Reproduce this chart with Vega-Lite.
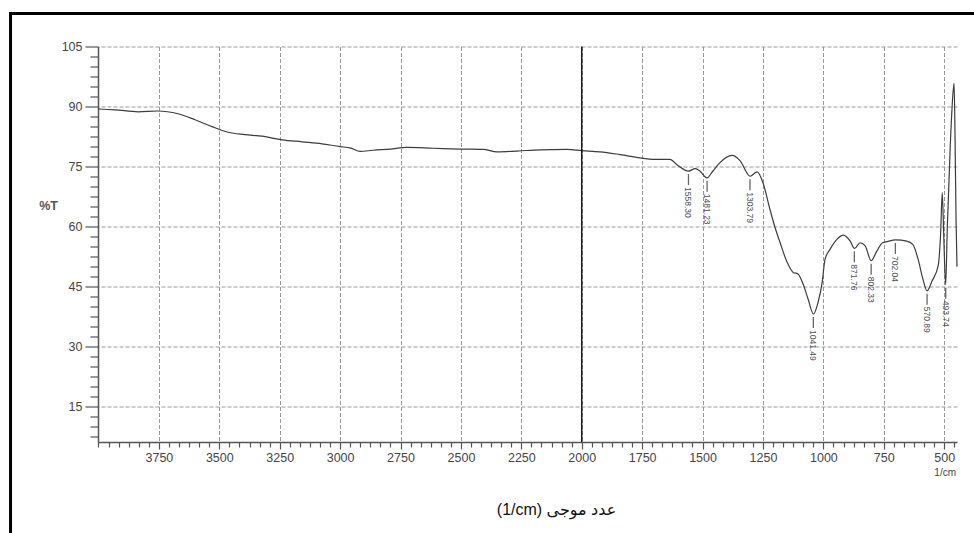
{
  "$schema": "https://vega.github.io/schema/vega-lite/v6.json",
  "width": 859,
  "height": 395.5,
  "autosize": {"type": "none"},
  "padding": {"left": 98, "top": 46.5, "right": 17, "bottom": 91},
  "background": "white",
  "config": {"view": {"stroke": null}},
  "datasets": {
    "spectrum": [
      {"wn": 4002, "t": 89.4}, {"wn": 3932, "t": 89.2}, {"wn": 3836, "t": 88.7}, {"wn": 3754, "t": 88.9},
      {"wn": 3671, "t": 88.2}, {"wn": 3600, "t": 86.7}, {"wn": 3530, "t": 85.0}, {"wn": 3464, "t": 83.6},
      {"wn": 3394, "t": 83.0}, {"wn": 3323, "t": 82.6}, {"wn": 3240, "t": 81.7}, {"wn": 3158, "t": 81.2},
      {"wn": 3075, "t": 80.7}, {"wn": 3000, "t": 80.0}, {"wn": 2959, "t": 79.7}, {"wn": 2917, "t": 78.8},
      {"wn": 2864, "t": 79.1}, {"wn": 2793, "t": 79.4}, {"wn": 2723, "t": 79.8}, {"wn": 2615, "t": 79.6},
      {"wn": 2504, "t": 79.4}, {"wn": 2408, "t": 79.3}, {"wn": 2350, "t": 78.7}, {"wn": 2268, "t": 78.9},
      {"wn": 2173, "t": 79.2}, {"wn": 2061, "t": 79.3}, {"wn": 2000, "t": 79.0}, {"wn": 1924, "t": 78.7},
      {"wn": 1841, "t": 78.0}, {"wn": 1759, "t": 77.2}, {"wn": 1705, "t": 76.8}, {"wn": 1635, "t": 76.8},
      {"wn": 1606, "t": 75.5}, {"wn": 1558, "t": 73.9}, {"wn": 1531, "t": 74.5}, {"wn": 1515, "t": 74.1},
      {"wn": 1481, "t": 72.2}, {"wn": 1461, "t": 73.6}, {"wn": 1428, "t": 76.0}, {"wn": 1378, "t": 77.8},
      {"wn": 1345, "t": 76.5}, {"wn": 1303, "t": 72.6}, {"wn": 1274, "t": 73.7}, {"wn": 1250, "t": 71.0},
      {"wn": 1221, "t": 64.3}, {"wn": 1200, "t": 59.8}, {"wn": 1179, "t": 56.0}, {"wn": 1150, "t": 51.1},
      {"wn": 1125, "t": 48.6}, {"wn": 1105, "t": 48.2}, {"wn": 1084, "t": 45.7}, {"wn": 1063, "t": 41.9},
      {"wn": 1041, "t": 38.2}, {"wn": 1022, "t": 41.1}, {"wn": 1005, "t": 46.1}, {"wn": 993, "t": 51.9},
      {"wn": 972, "t": 54.4}, {"wn": 943, "t": 56.9}, {"wn": 918, "t": 57.9}, {"wn": 889, "t": 56.4},
      {"wn": 871, "t": 54.6}, {"wn": 848, "t": 56.0}, {"wn": 827, "t": 55.2}, {"wn": 802, "t": 51.5},
      {"wn": 780, "t": 53.8}, {"wn": 755, "t": 56.0}, {"wn": 736, "t": 56.3}, {"wn": 700, "t": 56.7},
      {"wn": 655, "t": 56.4}, {"wn": 630, "t": 55.6}, {"wn": 608, "t": 51.9}, {"wn": 588, "t": 46.9},
      {"wn": 571, "t": 44.0}, {"wn": 550, "t": 46.5}, {"wn": 525, "t": 50.2}, {"wn": 515, "t": 58.0},
      {"wn": 508, "t": 68.5}, {"wn": 502, "t": 58.0}, {"wn": 494, "t": 45.5}, {"wn": 487, "t": 60.0},
      {"wn": 475, "t": 80.0}, {"wn": 464, "t": 93.0}, {"wn": 459, "t": 95.8}, {"wn": 455, "t": 82.0},
      {"wn": 451, "t": 62.0}, {"wn": 447, "t": 50.0}
    ],
    "peaks": [
      {"wn": 1558.3, "t": 73.9, "label": "1558.30"},
      {"wn": 1481.23, "t": 72.2, "label": "1481.23"},
      {"wn": 1303.79, "t": 72.6, "label": "1303.79"},
      {"wn": 1041.49, "t": 38.2, "label": "1041.49"},
      {"wn": 871.76, "t": 54.6, "label": "871.76"},
      {"wn": 802.33, "t": 51.5, "label": "802.33"},
      {"wn": 702.04, "t": 56.7, "label": "702.04"},
      {"wn": 570.89, "t": 44.0, "label": "570.89"},
      {"wn": 493.74, "t": 45.5, "label": "493.74"}
    ],
    "marker": [{"wn": 2000}]
  },
  "layer": [
    {
      "data": {"name": "spectrum"},
      "mark": {"type": "line", "color": "#3c3c3c", "strokeWidth": 1.2, "interpolate": "monotone"},
      "encoding": {
        "x": {
          "field": "wn", "type": "quantitative",
          "scale": {"domain": [447, 4002], "reverse": true, "nice": false, "zero": false},
          "axis": {
            "values": [458.33,500,541.67,583.33,625,666.67,708.33,750,791.67,833.33,875,916.67,958.33,1000,1041.67,1083.33,1125,1166.67,1208.33,1250,1291.67,1333.33,1375,1416.67,1458.33,1500,1541.67,1583.33,1625,1666.67,1708.33,1750,1791.67,1833.33,1875,1916.67,1958.33,2000,2041.67,2083.33,2125,2166.67,2208.33,2250,2291.67,2333.33,2375,2416.67,2458.33,2500,2541.67,2583.33,2625,2666.67,2708.33,2750,2791.67,2833.33,2875,2916.67,2958.33,3000,3041.67,3083.33,3125,3166.67,3208.33,3250,3291.67,3333.33,3375,3416.67,3458.33,3500,3541.67,3583.33,3625,3666.67,3708.33,3750,3791.67,3833.33,3875,3916.67,3958.33,4000],
            "tickCount": 500,
            "labelExpr": "datum.value % 250 === 0 && datum.value < 3900 ? datum.value : ''",
            "labelFont": "Liberation Sans", "labelFontSize": 12.5, "labelColor": "#444",
            "labelPadding": 2, "labelFlush": false, "labelOverlap": false,
            "domainColor": "#555", "domainWidth": 1.5,
            "tickColor": "#555", "tickWidth": 1.2,
            "tickSize": {"condition": {"test": "datum.value % 250 === 0 && datum.value < 3900", "value": 7}, "value": 5},
            "grid": true, "gridColor": "#999", "gridDash": [4, 2], "gridWidth": 1,
            "gridOpacity": {"condition": {"test": "datum.value % 250 === 0 && datum.value < 3900", "value": 1}, "value": 0},
            "title": "(1/cm) عدد موجی",
            "titleFont": "Liberation Sans, DejaVu Sans", "titleFontSize": 16, "titleFontWeight": "normal", "titleColor": "#111",
            "titleX": 458, "titleY": 67, "titleAlign": "center", "titleBaseline": "middle"
          }
        },
        "y": {
          "field": "t", "type": "quantitative",
          "scale": {"domain": [6.25, 105], "nice": false, "zero": false},
          "axis": {
            "values": [7.5,10,12.5,15,17.5,20,22.5,25,27.5,30,32.5,35,37.5,40,42.5,45,47.5,50,52.5,55,57.5,60,62.5,65,67.5,70,72.5,75,77.5,80,82.5,85,87.5,90,92.5,95,97.5,100,102.5,105],
            "tickCount": 500,
            "labelExpr": "datum.value % 15 === 0 ? datum.value : ''",
            "labelFont": "Liberation Sans", "labelFontSize": 12.5, "labelColor": "#444",
            "labelPadding": 3, "labelFlush": false, "labelOverlap": false,
            "domainColor": "#555", "domainWidth": 1.5,
            "tickColor": "#555", "tickWidth": 1.2,
            "tickSize": {"condition": {"test": "datum.value % 15 === 0", "value": 13}, "value": 8},
            "grid": true, "gridColor": "#999", "gridDash": [4, 2], "gridWidth": 1,
            "gridOpacity": {"condition": {"test": "datum.value % 15 === 0", "value": 1}, "value": 0},
            "title": "%T",
            "titleFont": "Liberation Sans", "titleFontSize": 12.5, "titleFontWeight": "bold", "titleColor": "#555",
            "titleAngle": 0, "titleX": -50, "titleY": 158.5, "titleAlign": "center", "titleBaseline": "middle"
          }
        }
      }
    },
    {
      "data": {"name": "marker"},
      "mark": {"type": "rule", "color": "#111", "strokeWidth": 1.4},
      "encoding": {"x": {"field": "wn", "type": "quantitative"}}
    },
    {
      "data": {"name": "peaks"},
      "mark": {"type": "tick", "orient": "vertical", "size": 11, "thickness": 1.3, "color": "#222", "yOffset": 8.5},
      "encoding": {
        "x": {"field": "wn", "type": "quantitative"},
        "y": {"field": "t", "type": "quantitative"}
      }
    },
    {
      "data": {"name": "peaks"},
      "mark": {"type": "text", "angle": 90, "align": "left", "baseline": "middle", "dx": 16, "font": "Liberation Sans Narrow, Liberation Sans", "fontSize": 8.5, "color": "#4a4f5a"},
      "encoding": {
        "x": {"field": "wn", "type": "quantitative"},
        "y": {"field": "t", "type": "quantitative"},
        "text": {"field": "label"}
      }
    },
    {
      "data": {"values": [{"u": "1/cm"}]},
      "mark": {"type": "text", "align": "center", "baseline": "middle", "dy": 31, "font": "Liberation Sans", "fontSize": 10, "color": "#444", "clip": false},
      "encoding": {
        "x": {"datum": 496, "type": "quantitative"},
        "y": {"datum": 6.25, "type": "quantitative"},
        "text": {"field": "u"}
      }
    },
    {
      "data": {"values": [{"f": "frame"}]},
      "mark": {"type": "rect", "fill": null, "fillOpacity": 0, "stroke": "#000", "strokeWidth": 3, "clip": false},
      "encoding": {
        "x": {"datum": 4364, "type": "quantitative"},
        "x2": {"datum": 350},
        "y": {"datum": 113.25, "type": "quantitative"},
        "y2": {"datum": -20}
      }
    }
  ]
}
